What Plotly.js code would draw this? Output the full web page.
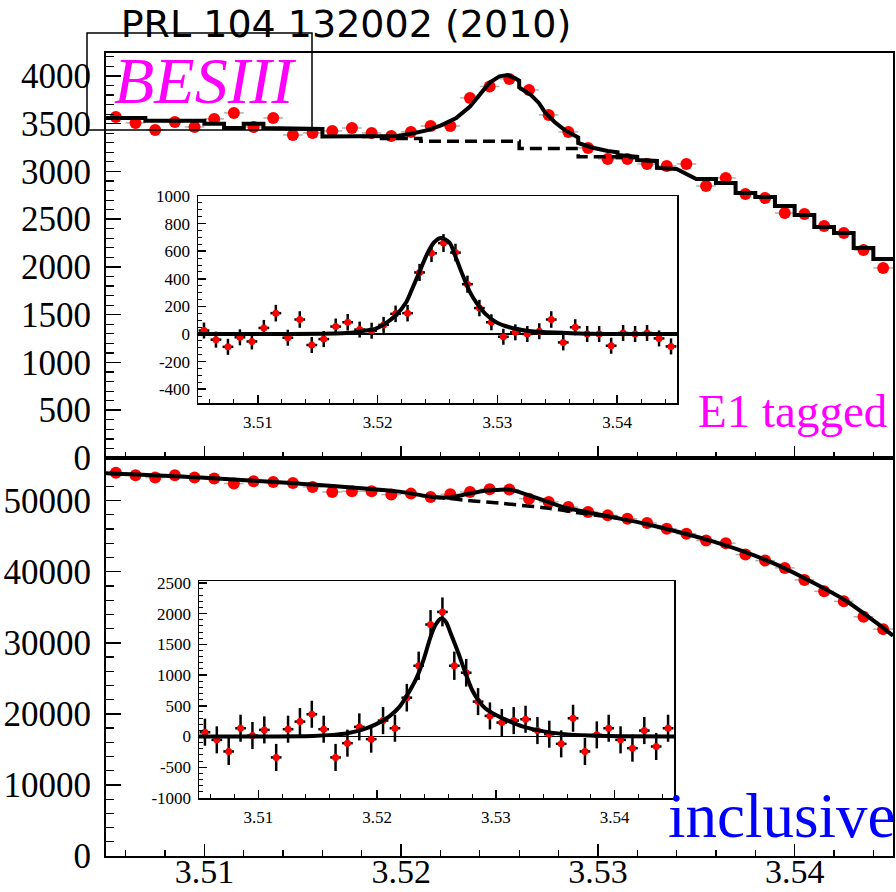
<!DOCTYPE html>
<html>
<head>
<meta charset="utf-8">
<script src="https://cdn.plot.ly/plotly-3.0.1.min.js"></script>
<style>html,body{margin:0;padding:0;background:#fff;}#chart{width:896px;height:892px;}</style>
</head>
<body>
<div id="chart"></div>
<script>
// ---------- data ----------
const massBins = [3.5055,3.5065,3.5075,3.5085,3.5095,3.5105,3.5115,3.5125,3.5135,3.5145,
  3.5155,3.5165,3.5175,3.5185,3.5195,3.5205,3.5215,3.5225,3.5235,3.5245,
  3.5255,3.5265,3.5275,3.5285,3.5295,3.5305,3.5315,3.5325,3.5335,3.5345,
  3.5355,3.5365,3.5375,3.5385,3.5395,3.5405,3.5415,3.5425,3.5435,3.5445];

// E1-tagged spectrum (top panel)
const taggedCounts = [3570,3508,3435,3518,3466,3550,3613,3466,3560,3382,
  3403,3424,3455,3403,3372,3414,3476,3476,3770,3890,
  3969,3853,3592,3414,3246,3131,3131,3078,3057,3078,
  2848,2932,2764,2722,2565,2555,2429,2356,2178,1990];
const taggedFitX = [3.505,3.507,3.507,3.510,3.510,3.511,3.511,3.512,3.512,3.513,3.513,3.515,3.515,3.516,3.516,3.519,
  3.5198,3.5205,3.5213,3.5220,3.5228,3.5235,3.5241,3.5245,3.5250,3.5254,3.5258,3.5260,3.5260,3.5266,3.5270,3.5273,
  3.5278,3.5283,3.5290,3.5290,3.5293,3.5298,3.5305,3.5310,3.5310,3.5320,3.5320,3.5330,3.5330,3.5340,3.5350,3.5360,
  3.5360,3.5370,3.5370,3.5380,3.5380,3.5390,3.5390,3.5400,3.5400,3.5410,3.5410,3.5420,3.5420,3.5430,3.5430,3.5440,
  3.5440,3.5450];
const taggedFitY = [3560,3560,3530,3530,3500,3500,3455,3455,3500,3500,3455,3455,3445,3445,3365,3365,
  3372,3395,3430,3480,3560,3680,3832,3930,3995,4010,3975,3950,3880,3800,3717,3623,
  3518,3435,3355,3298,3277,3246,3215,3200,3173,3152,3120,3110,3037,3025,2921,2921,
  2880,2880,2775,2775,2733,2733,2639,2639,2545,2545,2419,2419,2356,2356,2199,2199,
  2084,2084];
const taggedBkgX = [3.518,3.519,3.519,3.521,3.521,3.526,3.526,3.529,3.529,3.531,3.531,3.532,3.532,3.533];
const taggedBkgY = [3365,3365,3345,3345,3315,3315,3240,3240,3155,3155,3145,3145,3120,3110];

// inclusive spectrum (bottom panel)
const inclCounts = [53912,53573,53249,53573,53249,53107,52401,52730,52636,52495,
  51930,51224,51318,51318,50847,50988,50518,50894,51224,51600,
  51554,50282,49812,49105,48399,47928,47458,46846,46045,45339,
  44393,44021,42411,41568,40537,38842,37245,35833,33658,31921];
const inclFitX = [3.505,3.5098,3.5148,3.5199,3.5216,3.5224,3.5233,3.5241,3.5248,3.5255,3.5258,3.5265,
  3.5274,3.5282,3.5290,3.5307,3.5324,3.5341,3.5358,3.5375,3.5392,3.5408,3.5426,3.5442,3.545];
const inclFitY = [53850,53250,52400,51270,50520,50450,50890,51320,51480,51550,51370,50750,
  49900,49100,48630,47700,46750,45580,44300,42750,40860,38660,35920,32730,31000];
const inclBkgX = [3.5216,3.5224,3.5233,3.5240,3.5250,3.5256,3.5274,3.5290,3.5299,3.5310];
const inclBkgY = [50520,50330,50040,49880,49650,49480,48970,48300,47950,47620];

// background-subtracted insets
const taggedSig = [25,-41,-93,-24,-54,44,151,-27,105,-80,
  -37,54,85,32,24,66,146,151,446,585,
  659,590,361,188,85,-20,12,0,20,105,
  -61,49,0,0,-85,7,0,7,-32,-90];
const taggedSigErr = [58,58,58,58,58,58,60,58,60,58,
  58,58,60,58,58,58,60,60,62,64,
  65,64,62,60,58,58,58,58,58,60,
  58,58,58,58,58,58,58,58,58,58];
const taggedSigFitX = [3.505,3.5174,3.5186,3.5198,3.5206,3.5215,3.5224,3.5229,3.5235,3.5241,3.5247,3.5253,
  3.5260,3.5265,3.5271,3.5277,3.5283,3.5290,3.5299,3.5310,3.5325,3.5348,3.5377,3.545];
const taggedSigFitY = [0,7,20,37,73,134,232,330,451,573,663,695,663,561,427,305,220,146,85,49,24,10,2,0];

const inclSig = [70,-54,-243,135,16,108,-340,119,243,362,
  119,-340,-108,157,-43,259,135,632,1151,1822,
  2027,1151,1038,568,335,227,259,281,97,38,
  -119,297,-243,27,135,-54,-189,97,-162,135];
const inclSigErr = [220,220,220,220,220,220,220,220,220,220,
  220,220,220,220,220,220,220,225,230,235,
  235,230,225,220,220,220,220,220,220,220,
  220,220,220,220,220,220,220,220,220,220];
const inclSigFitX = [3.505,3.5146,3.5163,3.5175,3.5187,3.5198,3.5210,3.5219,3.5227,3.5233,3.5239,3.5245,3.5249,
  3.5254,3.5258,3.5262,3.5268,3.5274,3.5280,3.5286,3.5291,3.5300,3.5312,3.5323,3.5338,3.5356,3.5379,3.5408,3.545];
const inclSigFitY = [0,10,27,54,108,189,324,486,730,946,1243,1622,1811,1919,1865,1676,1378,1054,757,568,459,351,243,162,92,43,16,5,0];

// tick labels
const massTickVals = [3.51,3.52,3.53,3.54];
const massTickText = ['3.51','3.52','3.53','3.54'];
const taggedTickVals = [0,500,1000,1500,2000,2500,3000,3500,4000];
const taggedTickText = ['0','500','1000','1500','2000','2500','3000','3500','4000'];
const inclTickVals = [0,10000,20000,30000,40000,50000];
const inclTickText = ['0','10000','20000','30000','40000','50000'];
const inset1TickVals = [-400,-200,0,200,400,600,800,1000];
const inset1TickText = ['-400','-200','0','200','400','600','800','1000'];
const inset2TickVals = [-1000,-500,0,500,1000,1500,2000,2500];
const inset2TickText = ['-1000','-500','0','500','1000','1500','2000','2500'];

// ---------- layout helpers ----------
const W = 896, H = 892;
const SERIF = 'Liberation Serif';
const px = (a, b) => [a / W, b / W];
const py = (top, bottom) => [1 - bottom / H, 1 - top / H];
const bigFont = () => ({family: SERIF, size: 35, color: '#000'});
const smallFont = () => ({family: SERIF, size: 17, color: '#000'});

function axis(opts) {
  return Object.assign({
    showgrid: false, zeroline: false, showline: true, mirror: true,
    linecolor: '#000', linewidth: 2, ticks: 'inside', tickcolor: '#000',
    tickwidth: 1.5, tickmode: 'array', fixedrange: true
  }, opts);
}

const mainX = [106, 893];
const layout = {
  width: W, height: H,
  margin: {l: 0, r: 0, t: 0, b: 0, pad: 0},
  paper_bgcolor: '#fff', plot_bgcolor: '#fff',
  showlegend: false,
  title: {
    text: 'PRL 104 132002 (2010)',
    font: {family: 'DejaVu Sans', size: 38, color: '#000'},
    x: 346 / W, xanchor: 'center', y: 1 - 24 / H, yanchor: 'middle', xref: 'paper', yref: 'paper'
  },
  // bottom main panel (inclusive)
  xaxis: axis({domain: px(...mainX), range: [3.505, 3.545], anchor: 'y',
    tickvals: massTickVals, ticktext: massTickText, ticklen: 12, ticklabelstandoff: -16,
    tickfont: {family: SERIF, size: 34, color: '#000'},
    minor: {tickmode: 'linear', tick0: 3.51, dtick: 0.002, ticks: 'inside', ticklen: 6, tickcolor: '#000', tickwidth: 1.2}}),
  yaxis: axis({domain: py(458, 856), range: [0, 56000], anchor: 'x',
    tickvals: inclTickVals, ticktext: inclTickText, ticklen: 15, ticklabelstandoff: 6,
    tickfont: bigFont(),
    minor: {tickmode: 'linear', tick0: 0, dtick: 2000, ticks: 'inside', ticklen: 8, tickcolor: '#000', tickwidth: 1.2}}),
  // top main panel (E1 tagged)
  xaxis2: axis({domain: px(...mainX), range: [3.505, 3.545], anchor: 'y2',
    tickvals: massTickVals, ticktext: massTickText, showticklabels: false, ticklen: 12,
    minor: {tickmode: 'linear', tick0: 3.51, dtick: 0.002, ticks: 'inside', ticklen: 6, tickcolor: '#000', tickwidth: 1.2}}),
  yaxis2: axis({domain: py(53, 458), range: [0, 4240], anchor: 'x2',
    tickvals: taggedTickVals, ticktext: taggedTickText, ticklen: 15, ticklabelstandoff: 6,
    tickfont: bigFont(),
    minor: {tickmode: 'linear', tick0: 0, dtick: 100, ticks: 'inside', ticklen: 8, tickcolor: '#000', tickwidth: 1.2}}),
  // inset of top panel
  xaxis3: axis({domain: px(198, 677), range: [3.505, 3.545], anchor: 'y3', linewidth: 1.5,
    tickvals: massTickVals, ticktext: massTickText, ticklen: 8, ticklabelstandoff: 3,
    tickfont: smallFont(),
    minor: {tickmode: 'linear', tick0: 3.51, dtick: 0.002, ticks: 'inside', ticklen: 4, tickcolor: '#000', tickwidth: 1}}),
  yaxis3: axis({domain: py(196, 403), range: [-500, 1000], anchor: 'x3', linewidth: 1.5,
    tickvals: inset1TickVals, ticktext: inset1TickText, ticklen: 8, ticklabelstandoff: 3,
    zeroline: true, zerolinecolor: '#000', zerolinewidth: 1.5,
    tickfont: smallFont(),
    minor: {tickmode: 'linear', tick0: 0, dtick: 50, ticks: 'inside', ticklen: 4, tickcolor: '#000', tickwidth: 1}}),
  // inset of bottom panel
  xaxis4: axis({domain: px(199, 674), range: [3.505, 3.545], anchor: 'y4', linewidth: 1.5,
    tickvals: massTickVals, ticktext: massTickText, ticklen: 8, ticklabelstandoff: 3,
    tickfont: smallFont(),
    minor: {tickmode: 'linear', tick0: 3.51, dtick: 0.002, ticks: 'inside', ticklen: 4, tickcolor: '#000', tickwidth: 1}}),
  yaxis4: axis({domain: py(581, 798), range: [-1000, 2530], anchor: 'x4', linewidth: 1.5,
    tickvals: inset2TickVals, ticktext: inset2TickText, ticklen: 8, ticklabelstandoff: 3,
    zeroline: true, zerolinecolor: '#000', zerolinewidth: 1.5,
    tickfont: smallFont(),
    minor: {tickmode: 'linear', tick0: 0, dtick: 100, ticks: 'inside', ticklen: 4, tickcolor: '#000', tickwidth: 1}}),
  shapes: [
    {type: 'rect', xref: 'paper', yref: 'paper', x0: 87 / W, x1: 312 / W, y0: 1 - 130 / H, y1: 1 - 33 / H,
     line: {color: '#000', width: 1.5}, fillcolor: 'rgba(0,0,0,0)', layer: 'above'}
  ],
  annotations: [
    {text: '<i>BESIII</i>', xref: 'paper', yref: 'paper', x: 205 / W, y: 1 - 80 / H,
     xanchor: 'center', yanchor: 'middle', showarrow: false,
     font: {family: SERIF, size: 66, color: '#ff00ff'}},
    {text: 'E1 tagged', xref: 'paper', yref: 'paper', x: 889 / W, y: 1 - 411 / H,
     xanchor: 'right', yanchor: 'middle', showarrow: false,
     font: {family: SERIF, size: 47, color: '#ff00ff'}},
    {text: 'inclusive', xref: 'paper', yref: 'paper', x: 897 / W, y: 1 - 816 / H,
     xanchor: 'right', yanchor: 'middle', showarrow: false,
     font: {family: SERIF, size: 63, color: '#0000ff'}}
  ]
};

// ---------- traces ----------
const mainPts = (y, xa, ya) => ({
  type: 'scatter', mode: 'markers', x: massBins, y: y, xaxis: xa, yaxis: ya,
  marker: {color: '#ff0000', size: 12},
  error_x: {type: 'constant', value: 0.0005, color: '#b0b0b0', thickness: 1.5, width: 0},
  hoverinfo: 'skip'
});
const line = (x, y, xa, ya, dash, shape, width) => ({
  type: 'scatter', mode: 'lines', x: x, y: y, xaxis: xa, yaxis: ya,
  line: {color: '#000', width: width, dash: dash, shape: shape, smoothing: 0.8},
  hoverinfo: 'skip'
});
const insetPts = (y, err, xa, ya) => ({
  type: 'scatter', mode: 'markers', x: massBins, y: y, xaxis: xa, yaxis: ya,
  marker: {color: '#ff0000', size: 7},
  error_y: {type: 'data', array: err, visible: true, color: '#000', thickness: 2.5, width: 0},
  error_x: {type: 'constant', value: 0.00045, color: '#000', thickness: 2.5, width: 0},
  hoverinfo: 'skip'
});

const data = [
  mainPts(inclCounts, 'x', 'y'),
  line(inclBkgX, inclBkgY, 'x', 'y', '12px,6px', 'spline', 3.5),
  line(inclFitX, inclFitY, 'x', 'y', 'solid', 'spline', 4),
  mainPts(taggedCounts, 'x2', 'y2'),
  line(taggedBkgX, taggedBkgY, 'x2', 'y2', '12px,6px', 'linear', 3.5),
  line(taggedFitX, taggedFitY, 'x2', 'y2', 'solid', 'linear', 4),
  insetPts(taggedSig, taggedSigErr, 'x3', 'y3'),
  line(taggedSigFitX, taggedSigFitY, 'x3', 'y3', 'solid', 'spline', 4),
  insetPts(inclSig, inclSigErr, 'x4', 'y4'),
  line(inclSigFitX, inclSigFitY, 'x4', 'y4', 'solid', 'spline', 4)
];

Plotly.newPlot('chart', data, layout, {staticPlot: true, displayModeBar: false});
</script>
</body>
</html>
